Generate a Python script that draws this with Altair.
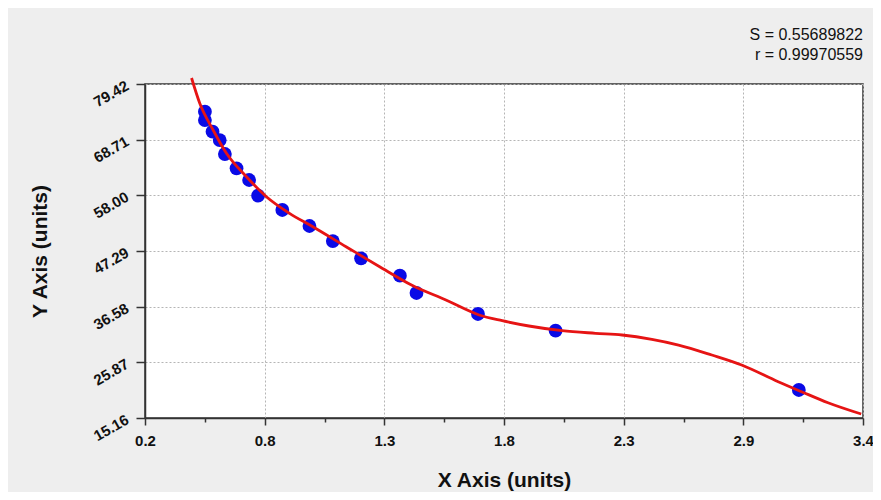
import altair as alt
import pandas as pd

# ---- data ----
x_domain = [0.2, 3.4]
y_domain = [15.16, 79.42]
x_tick_labels = ["0.2", "0.8", "1.3", "1.8", "2.3", "2.9", "3.4"]
y_tick_labels = ["15.16", "25.87", "36.58", "47.29", "58.00", "68.71", "79.42"]

point_x = [0.467, 0.467, 0.501, 0.533, 0.556, 0.608, 0.664, 0.704, 0.812, 0.933,
           1.037, 1.163, 1.336, 1.410, 1.684, 2.030, 3.114]
point_y = [74.09, 72.49, 70.24, 68.64, 65.95, 63.20, 60.95, 57.93, 55.18, 52.10,
           49.21, 45.89, 42.54, 39.21, 35.17, 31.96, 20.55]

curve_x = [0.4075, 0.444, 0.5035, 0.563, 0.652, 0.741, 0.844, 0.948, 1.096, 1.244,
           1.392, 1.541, 1.689, 1.792, 1.911, 2.059, 2.208, 2.326, 2.459, 2.578,
           2.726, 2.859, 3.022, 3.126, 3.244, 3.392]
curve_y = [80.57, 75.71, 70.57, 66.09, 61.58, 57.74, 54.54, 51.96, 48.12, 44.31,
           40.65, 37.86, 34.98, 33.88, 32.86, 31.96, 31.46, 31.13, 30.30, 29.20,
           27.28, 25.36, 22.14, 20.22, 18.10, 15.93]

stats_text = ["S = 0.55689822", "r = 0.99970559"]

# ---- tick positions (majors from label count, 3 minors between) ----
def ticks(domain, n_major, n_minor=3):
    lo, hi = domain
    step = (hi - lo) / (n_major - 1)
    majors = [round(lo + i * step, 6) for i in range(n_major)]
    allv = []
    for i in range(n_major - 1):
        for j in range(n_minor + 1):
            allv.append(round(lo + i * step + j * step / (n_minor + 1), 6))
    allv.append(majors[-1])
    return majors, allv

x_major, x_all = ticks(x_domain, len(x_tick_labels))
y_major, y_all = ticks(y_domain, len(y_tick_labels))

def arr(v):
    return "[" + ",".join(repr(a) for a in v) + "]"

def strarr(v):
    return "[" + ",".join("'" + a + "'" for a in v) + "]"

def is_major(majors):
    return "indexof(" + arr(majors) + ", datum.value) >= 0"

def label_expr(majors, labels):
    return ("indexof(" + arr(majors) + ", datum.value) >= 0 ? " + strarr(labels)
            + "[indexof(" + arr(majors) + ", datum.value)] : ''")

FONT = "Liberation Sans"
DARK = "#333333"

W, H = 718, 334

x_axis = alt.Axis(
    values=x_all,
    labelExpr=label_expr(x_major, x_tick_labels),
    tickSize={"condition": {"test": is_major(x_major), "value": 7}, "value": 4},
    tickWidth=1.5, tickColor=DARK,
    domainColor=DARK, domainWidth=1.5,
    grid=True, gridDash=[2, 2], gridColor="#b5b5b5", gridWidth=1,
    gridOpacity={"condition": {"test": is_major(x_major), "value": 1}, "value": 0},
    labelFont=FONT, labelFontWeight="bold", labelFontSize=15, labelColor="#111111",
    labelPadding=8, labelFlush=False, labelOverlap=False, labelBound=False,
    title="X Axis (units)", titleFont=FONT, titleFontSize=21, titleFontWeight="bold",
    titleColor="#111111", titleX=W / 2, titleY=62, titleAlign="center",
    titleBaseline="middle",
)

y_axis = alt.Axis(
    values=y_all,
    labelExpr=label_expr(y_major, y_tick_labels),
    tickSize={"condition": {"test": is_major(y_major), "value": 9}, "value": 4},
    tickWidth=1.5, tickColor=DARK,
    domainColor=DARK, domainWidth=1.5,
    grid=True, gridDash=[2, 2], gridColor="#b5b5b5", gridWidth=1,
    gridOpacity={"condition": {"test": is_major(y_major), "value": 1}, "value": 0},
    labelFont=FONT, labelFontWeight="bold", labelFontSize=15, labelColor="#111111",
    labelAngle=330, labelAlign="right", labelBaseline="middle",
    labelPadding=9, labelOffset=0,
    labelFlush=False, labelOverlap=False, labelBound=False,
    title="Y Axis (units)", titleFont=FONT, titleFontSize=21, titleFontWeight="bold",
    titleColor="#111111", titleAngle=270, titleX=-105, titleY=H / 2,
    titleAlign="center", titleBaseline="middle",
)

xs = alt.Scale(domain=x_domain, nice=False, zero=False)
ys = alt.Scale(domain=y_domain, nice=False, zero=False)

pts = pd.DataFrame({"x": point_x, "y": point_y})
crv = pd.DataFrame({"x": curve_x, "y": curve_y})

points = alt.Chart(pts).mark_circle(size=190, color="#0a0ae6", opacity=1).encode(
    x=alt.X("x:Q", scale=xs, axis=x_axis),
    y=alt.Y("y:Q", scale=ys, axis=y_axis),
)

line = alt.Chart(crv).mark_line(color="#e61414", strokeWidth=2.8, interpolate="monotone").encode(
    x=alt.X("x:Q", scale=xs),
    y=alt.Y("y:Q", scale=ys),
)

txt1 = alt.Chart(pd.DataFrame({"t": [stats_text[0]]})).mark_text(
    align="right", baseline="middle", font=FONT, fontSize=16, color="#111111"
).encode(text="t:N", x=alt.value(W), y=alt.value(-49))

txt2 = alt.Chart(pd.DataFrame({"t": [stats_text[1]]})).mark_text(
    align="right", baseline="middle", font=FONT, fontSize=16, color="#111111"
).encode(text="t:N", x=alt.value(W), y=alt.value(-29))

chart = alt.layer(points, line, txt1, txt2).properties(
    width=W, height=H,
    autosize=alt.AutoSizeParams(type="none"),
    padding={"left": 137, "top": 76, "right": 10, "bottom": 74},
    background="#eeeeee",
).configure_view(stroke=DARK, strokeWidth=1.5, fill="white")

chart.save("out.html", embed_options={"renderer": "svg", "actions": False})
